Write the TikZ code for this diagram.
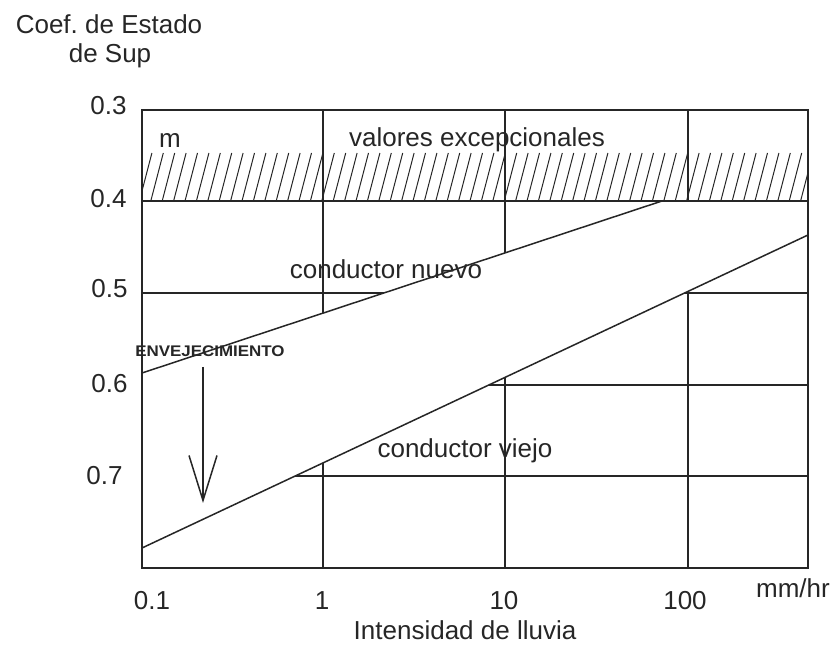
\documentclass[tikz,border=0pt]{standalone}
\usepackage{fontspec}
\setmainfont{Liberation Sans}
\usepackage{tikz}
\usetikzlibrary{arrows.meta}
\definecolor{ink}{HTML}{262626}
\tikzset{
  gridline/.style={line width=0.75pt, color=ink},
  hatchline/.style={line width=0.5pt, color=ink},
  plottext/.style={font=\fontsize{13}{15}\selectfont, text=ink, inner sep=0pt},
  agetext/.style={font=\fontsize{7.7}{8}\selectfont\bfseries, text=ink, inner sep=0pt, xscale=1.1},
}

\begin{document}
\begin{tikzpicture}[x=0.5pt, y=-0.5pt]
                \useasboundingbox (0,0) rectangle (837,646);
                % inner grid
                \foreach \gx in {323,505,688} \draw[gridline] (\gx,110) -- (\gx,568);
                \foreach \gy in {293,385,476} \draw[gridline] (142,\gy) -- (808,\gy);
                % valores excepcionales
                \begin{scope}
                  \clip (142,153) rectangle (808,201);
                  \foreach \hx in {128,139.4,...,822} \draw[hatchline] (\hx,201) -- (\hx+12.5,153);
                \end{scope}
                % band between the conductors
                \coordinate (nuevoA) at (142,373);
                \coordinate (nuevoB) at (662,201);
                \coordinate (viejoA) at (142,548);
                \coordinate (viejoB) at (808,235);
                \fill[white] (nuevoA) -- (nuevoB) -- (808,201) -- (viejoB) -- (viejoA) -- cycle;
                \draw[gridline] (142,110) rectangle (808,568);
                \draw[gridline] (142,201) -- (808,201);
                \draw[gridline] (nuevoA) -- (nuevoB);
                \draw[gridline] (viejoA) -- (viejoB);
                % labels
                \node[plottext, anchor=base] (coef) at (109,34) {Coef.\ de Estado};
                \node[plottext, anchor=base] (sup) at (110,63) {de Sup};
                \foreach \yv/\yx/\yy [count=\i] in {0.3/127/115, 0.4/127/208, 0.5/128/298, 0.6/128/393, 0.7/123/485}
                  \node[plottext, anchor=base east] (ytick\i) at (\yx,\yy) {\yv};
                \foreach \xv/\xx [count=\i] in {0.1/152, 1/322, 10/504, 100/685}
                  \node[plottext, anchor=base] (xtick\i) at (\xx,610) {\xv};
                \node[plottext, anchor=base] (unit) at (793,598) {mm/hr};
                \node[plottext, anchor=base] (lluvia) at (465,640) {Intensidad de lluvia};
                \node[plottext, anchor=base] (m) at (170,148) {m};
                \node[plottext, anchor=base] (excep) at (477,147) {valores excepcionales};
                \node[plottext, anchor=base] (nuevo) at (386,279) {conductor nuevo};
                \node[plottext, anchor=base] (viejo) at (465,458) {conductor viejo};
                % envejecimiento
                \node[agetext, anchor=base] (envej) at (210,357) {ENVEJECIMIENTO};
                \coordinate (agetop) at (203,367);
                \coordinate (agebot) at (203,503);
                \draw[gridline, -{Straight Barb[length=22.5pt, width=14pt]}] (agetop) -- (agebot);
            \end{tikzpicture}
\end{document}
